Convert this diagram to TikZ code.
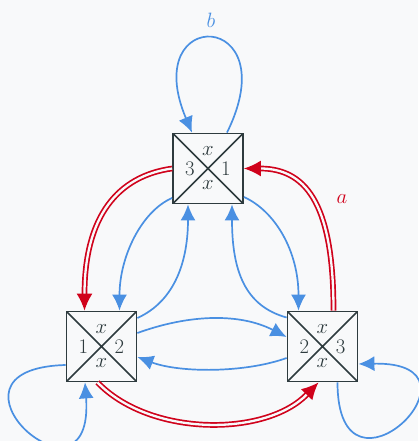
\documentclass[tikz,border=0pt]{standalone}
\usetikzlibrary{arrows.meta,calc}
\definecolor{bg}{HTML}{F8F9FA}
\definecolor{ink}{HTML}{2E3B3E}
\definecolor{eblue}{HTML}{4A90E2}
\definecolor{ered}{HTML}{D0021B}
\begin{document}
\begin{tikzpicture}[x=1pt,y=1pt,
  statebox/.style={draw=ink, line width=1.8pt, fill=bg, minimum size=70pt, inner sep=0pt,
    path picture={\draw[ink,line width=1.6pt]
      (path picture bounding box.north west) -- (path picture bounding box.south east)
      (path picture bounding box.north east) -- (path picture bounding box.south west);}},
  lbl/.style={text=ink, inner sep=0pt, font=\fontsize{20}{24}\selectfont},
  elbl/.style={inner sep=0pt, font=\fontsize{20}{24}\selectfont},
  bedge/.style={draw=eblue, line width=1.7pt, -{Latex[length=16pt,width=15pt]}},
  redge/.style={draw=ered, line width=1.7pt, double=bg, double distance=2.3pt, -{Latex[length=17pt,width=16pt]}},
]
\fill[bg] (0,0) rectangle (418,441);
\useasboundingbox (0,0) rectangle (418,441);

% states
\node[statebox] (T) at (208,272.5) {};
\node[statebox] (L) at (101.5,94.5) {};
\node[statebox] (R) at (322.5,94.5) {};

\node[lbl] (Tt) at ($(T)+(0,17.5)$) {$x$};
\node[lbl] (Tb) at ($(T)+(0,-16.5)$) {$x$};
\node[lbl] (Tl) at ($(T)+(-18,0)$) {$3$};
\node[lbl] (Tr) at ($(T)+(18,0)$) {$1$};

\node[lbl] (Lt) at ($(L)+(0,17.5)$) {$x$};
\node[lbl] (Lb) at ($(L)+(0,-16.5)$) {$x$};
\node[lbl] (Ll) at ($(L)+(-18,0)$) {$1$};
\node[lbl] (Lr) at ($(L)+(18,0)$) {$2$};

\node[lbl] (Rt) at ($(R)+(0,17.5)$) {$x$};
\node[lbl] (Rb) at ($(R)+(0,-16.5)$) {$x$};
\node[lbl] (Rl) at ($(R)+(-18,0)$) {$2$};
\node[lbl] (Rr) at ($(R)+(18,0)$) {$3$};

% loop b on top
\draw[bedge] ($(T.north)+(19,0)$) .. controls (288,432) and (138,436) .. ($(T.north)+(-16,0)$);
\node[elbl, text=eblue] (lb) at (211,421) {$b$};

% red a edges
\draw[redge] (T.west) .. controls (118,265) and (84.5,225) .. ($(L.north)+(-17,0)$);
\draw[redge] ($(R.north)+(11,0)$) .. controls (333.5,230) and (310,272.5) .. (T.east);
\draw[redge] ($(L.south)+(-4,0)$) .. controls (150,4) and (266,4) .. ($(R.south)+(-4,0)$);
\node[elbl, text=ered] (la) at (342,242) {$a$};

% blue edges
\draw[bedge] ($(T.west)+(0,-29.5)$) .. controls (142,230) and (119.5,185) .. ($(L.north)+(18,0)$);
\draw[bedge] ($(L.east)+(0,28.5)$) .. controls (175,140) and (188,180) .. ($(T.south)+(-20,0)$);
\draw[bedge] ($(T.east)+(0,-28.5)$) .. controls (275,230) and (298.5,190) .. ($(R.north)+(-24,0)$);
\draw[bedge] ($(R.west)+(0,29)$) .. controls (245,135) and (232,170) .. ($(T.south)+(24,0)$);
\draw[bedge] ($(L.east)+(0,13.5)$) .. controls (190,127) and (240,128) .. ($(R.west)+(0,9.5)$);
\draw[bedge] ($(R.west)+(0,-11.5)$) .. controls (245,68) and (180,68) .. ($(L.east)+(0,-10.5)$);

% bottom loops
\draw[bedge] ($(L.west)+(0,-18.5)$) .. controls (-78,72) and (95,-82) .. ($(L.south)+(-16.5,0)$);
\draw[bedge] ($(R.south)+(15,0)$) .. controls (337.5,-78) and (498,80) .. ($(R.east)+(0,-17.5)$);
\end{tikzpicture}
\end{document}
